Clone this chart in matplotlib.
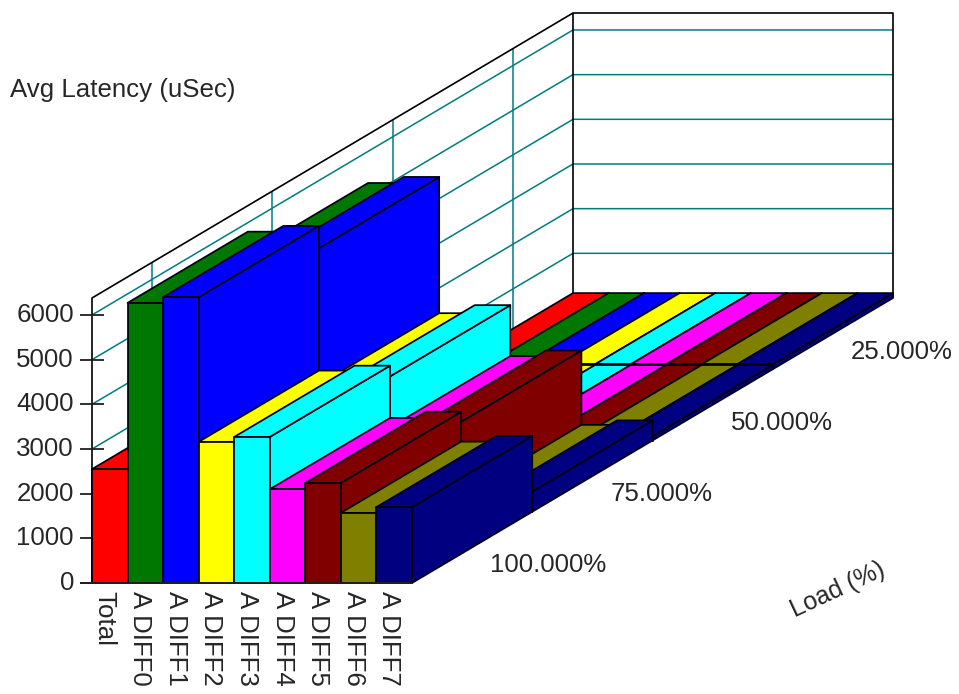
import matplotlib
matplotlib.use("Agg")
import matplotlib.pyplot as plt
from matplotlib.patches import Polygon

categories = ["Total", "A DIFF0", "A DIFF1", "A DIFF2", "A DIFF3", "A DIFF4", "A DIFF5", "A DIFF6", "A DIFF7"]
loads = ["100.000%", "75.000%", "50.000%", "25.000%"]
load_100 = [2550, 6270, 6400, 3160, 3270, 2100, 2240, 1570, 1700]
load_75 = [2400, 5765, 5900, 2850, 3030, 1890, 2015, 350, 450]
load_50 = [95, 95, 95, 95, 95, 95, 95, 95, 95]
load_25 = [110, 110, 110, 110, 110, 110, 110, 110, 110]
rows = [load_100, load_75, load_50, load_25]
colors = ["#FF0000", "#007800", "#0000FF", "#FFFF00", "#00FFFF", "#FF00FF", "#800000", "#808000", "#000080"]
y_ticks = [0, 1000, 2000, 3000, 4000, 5000, 6000]
y_max = 6380

# oblique projection
X0, Y0 = 92.0, 583.0
COL_W = 320.0 / 9
DX, DY = 120.25, -71.25
PX_PER_UNIT = 44.67 / 1000
TEAL = "#007C80"
TXT = "#262626"
FS = 18.6
plt.rcParams["font.family"] = ["Liberation Sans", "DejaVu Sans"]


def proj(c, r, v=0.0):
    return (X0 + c * COL_W + r * DX, Y0 + r * DY - v * PX_PER_UNIT)


fig = plt.figure(figsize=(9.59, 6.94), dpi=100, facecolor="white")
ax = fig.add_axes([0, 0, 1, 1])
ax.set_xlim(0, 959)
ax.set_ylim(694, 0)
ax.axis("off")


def line(pts, color="black", lw=1.1, z=1):
    ax.plot([p[0] for p in pts], [p[1] for p in pts], color=color, lw=lw, zorder=z,
            solid_capstyle="butt")


nc, nr = len(categories), len(rows)
# grid on walls
for t in y_ticks[1:]:
    line([proj(0, 0, t), proj(0, nr, t), proj(nc, nr, t)], TEAL, 1.1)
for r in range(nr):
    line([proj(0, r + 0.5, 0), proj(0, r + 0.5, y_max)], TEAL, 1.1)
# wall frame
line([proj(0, 0, 0), proj(0, 0, y_max), proj(0, nr, y_max), proj(nc, nr, y_max), proj(nc, nr, 0)], "black", 1.2)
line([proj(0, nr, 0), proj(0, nr, y_max)], "black", 1.2)
# value ticks
for t in y_ticks:
    x, y = proj(0, 0, t)
    line([(x - 12, y), (x + 12, y)], "#202020", 1.3, 1.5)
    ax.text(x - 18, y, str(t), ha="right", va="center", fontsize=FS, color=TXT)

# bars: back to front, left to right
z = 2
for r in range(nr - 1, -1, -1):
    for c in range(nc):
        v = rows[r][c]
        faces = [
            [proj(c + 1, r, 0), proj(c + 1, r + 1, 0), proj(c + 1, r + 1, v), proj(c + 1, r, v)],
            [proj(c, r, v), proj(c + 1, r, v), proj(c + 1, r + 1, v), proj(c, r + 1, v)],
            [proj(c, r, 0), proj(c + 1, r, 0), proj(c + 1, r, v), proj(c, r, v)],
        ]
        for f in faces:
            ax.add_patch(Polygon(f, closed=True, facecolor=colors[c], edgecolor="#000010",
                                 lw=1.25, zorder=z, joinstyle="round"))
            z += 1

line([(X0 - 12, Y0), proj(nc, 0, 0)], "#202020", 1.4, z + 1)

# labels
for c, name in enumerate(categories):
    x, y = proj(c + 0.5, 0, 0)
    ax.text(x - 5, y + 8, name, rotation=270, ha="center", va="top", fontsize=FS, color=TXT)
for r, name in enumerate(loads):
    x, y = proj(nc, r + 0.5, 0)
    ax.text(x + 18, y + 18, name, ha="left", va="center", fontsize=FS, color=TXT)
ax.text(10, 90, "Avg Latency (uSec)", ha="left", va="center", fontsize=FS, color=TXT)
ax.text(838, 590, "Load (%)", rotation=25, ha="center", va="center", fontsize=FS - 0.6, color=TXT,
        rotation_mode="anchor")

fig.savefig("out.png", dpi=100, facecolor="white")
